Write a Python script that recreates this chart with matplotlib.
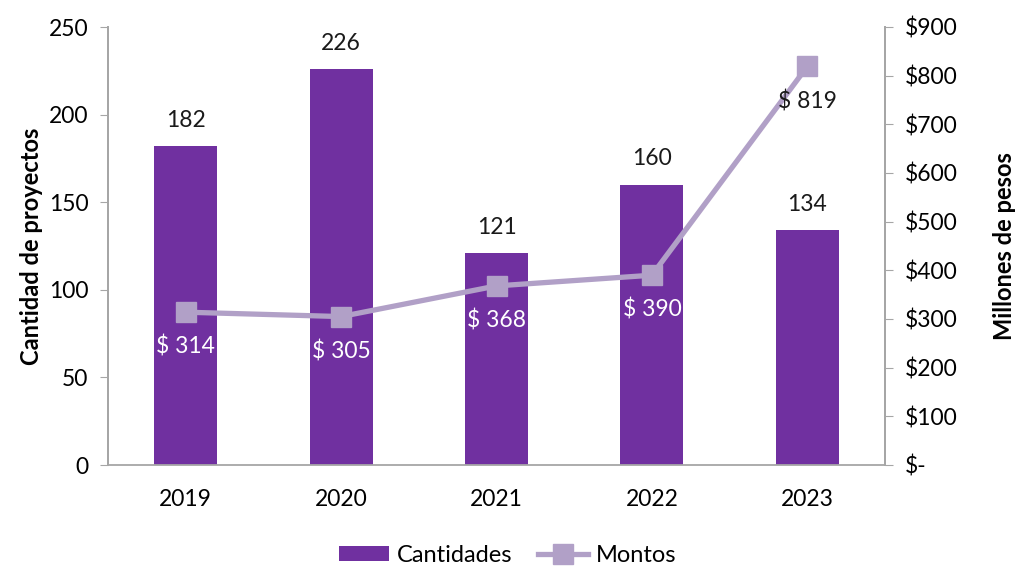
import numpy as np
import matplotlib.pyplot as plt
from matplotlib.ticker import FuncFormatter

# datos
years = ['2019', '2020', '2021', '2022', '2023']
cantidades = [182, 226, 121, 160, 134]
montos = [314, 305, 368, 390, 819]

bar_color = '#7030A0'
line_color = '#B1A0C7'
grid_gray = '#A6A6A6'

plt.rcParams['font.family'] = ['Lato', 'DejaVu Sans']


def money(v, pos):
    return '$-' if v == 0 else f'${v:.0f}'


def main():
    fig = plt.figure(figsize=(10.16, 5.70), dpi=100)
    ax = fig.add_axes([108 / 1016, 1 - 465 / 570, (885 - 108) / 1016, (465 - 27) / 570])
    ax2 = ax.twinx()

    x = np.arange(len(years))
    bars = ax.bar(x, cantidades, width=0.405, color=bar_color, label='Cantidades', zorder=2)
    for xi, v in zip(x, cantidades):
        ax.annotate(str(v), (xi, v), xytext=(0, 11), textcoords='offset points',
                    ha='center', va='bottom', fontsize=16.5, color='#1a1a1a')

    ax.set_xlim(-0.5, len(years) - 0.5)
    ax.set_ylim(0, 250)
    ax.set_yticks(range(0, 251, 50))
    ax.set_xticks(x)
    ax.set_xticklabels(years)
    ax.tick_params(axis='x', length=0, labelsize=16.5, pad=17)
    ax.tick_params(axis='y', labelsize=16.5, length=6, color=grid_gray, direction='out', pad=8)
    ax.set_ylabel('Cantidad de proyectos', fontsize=17, fontweight='bold', labelpad=4)

    line, = ax2.plot(x, montos, color=line_color, lw=3.8, marker='s', markersize=14,
                     label='Montos', zorder=3)
    for i, (xi, v) in enumerate(zip(x, montos)):
        c = '#1a1a1a' if i == len(montos) - 1 else 'white'
        ax2.annotate(f'$ {v}', (xi, v), xytext=(0, -17), textcoords='offset points',
                     ha='center', va='top', fontsize=16.5, color=c)
    ax2.set_ylim(0, 900)
    ax2.set_yticks(range(0, 901, 100))
    ax2.yaxis.set_major_formatter(FuncFormatter(money))
    ax2.tick_params(axis='y', labelsize=16.5, length=6, color=grid_gray, direction='out', pad=8)
    ax2.set_ylabel('Millones de pesos', fontsize=17, fontweight='bold', labelpad=26)

    for a in (ax, ax2):
        a.spines['top'].set_visible(False)
        for s in ('left', 'right', 'bottom'):
            a.spines[s].set_color(grid_gray)
            a.spines[s].set_linewidth(1.3)
    ax2.spines['bottom'].set_visible(False)
    ax.set_zorder(1)
    ax2.set_zorder(2)

    fig.legend([bars, line], ['Cantidades', 'Montos'], loc='lower center',
               bbox_to_anchor=(0.5, -0.03), ncol=2, frameon=False, fontsize=17,
               handlelength=2.1, handleheight=0.6, columnspacing=1.1, handletextpad=0.35)

    fig.savefig('out.png', dpi=100, facecolor='white')


if __name__ == '__main__':
    main()
